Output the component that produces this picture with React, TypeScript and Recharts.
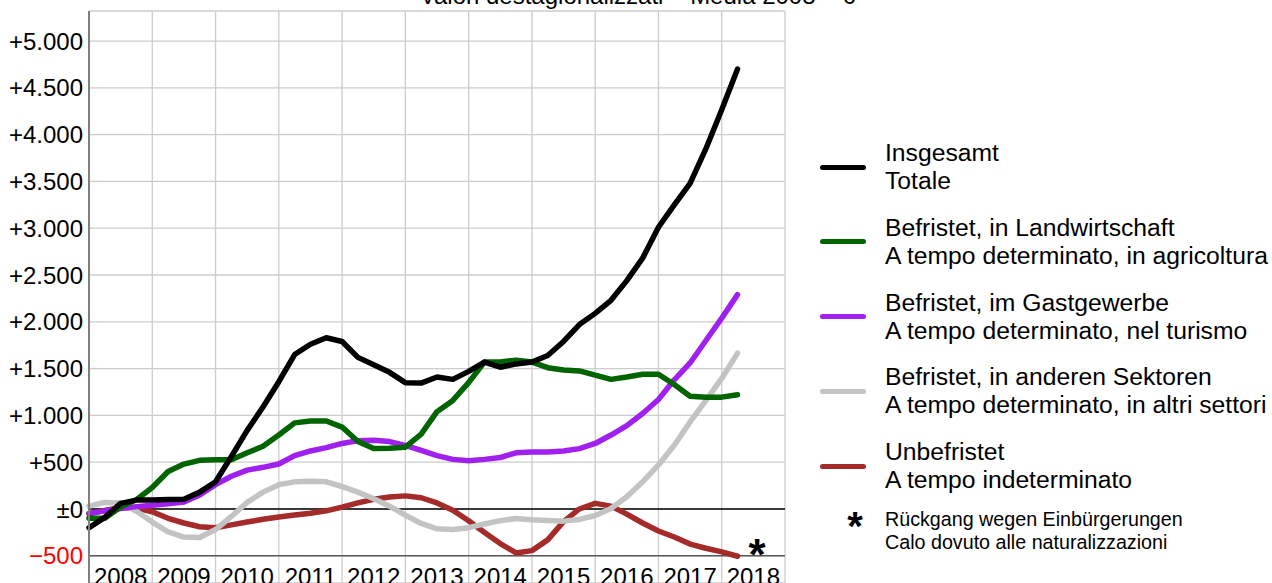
import React from 'react';
import {
  LineChart, Line, XAxis, YAxis, CartesianGrid, ReferenceLine, ReferenceDot,
} from 'recharts';

// quarterly points, decimal years
const TIME = [
  2008, 2008.25, 2008.5, 2008.75, 2009, 2009.25, 2009.5, 2009.75,
  2010, 2010.25, 2010.5, 2010.75, 2011, 2011.25, 2011.5, 2011.75,
  2012, 2012.25, 2012.5, 2012.75, 2013, 2013.25, 2013.5, 2013.75,
  2014, 2014.25, 2014.5, 2014.75, 2015, 2015.25, 2015.5, 2015.75,
  2016, 2016.25, 2016.5, 2016.75, 2017, 2017.25, 2017.5, 2017.75,
  2018, 2018.25,
];

const TOTALE = [
  -200, -90, 60, 95, 95, 100, 105, 180, 290, 560, 840, 1090, 1360, 1650,
  1760, 1830, 1790, 1620, 1540, 1460, 1350, 1345, 1410, 1385, 1470, 1570,
  1515, 1550, 1570, 1640, 1790, 1970, 2090, 2230, 2440, 2680, 3010, 3250,
  3480, 3850, 4265, 4700,
];

const AGRICOLTURA = [
  -100, -100, 20, 100, 230, 400, 480, 520, 525, 525, 600, 670, 790, 920,
  940, 940, 875, 720, 645, 650, 660, 800, 1040, 1160, 1350, 1570, 1570,
  1590, 1570, 1510, 1485, 1475, 1430, 1385, 1410, 1440, 1440, 1330, 1205,
  1195, 1195, 1220,
];

const TURISMO = [
  -50, -20, 5, 25, 40, 55, 75, 150, 260, 350, 415, 445, 480, 570, 620, 655,
  700, 730, 735, 720, 680, 625, 570, 530, 515, 530, 550, 600, 610, 610, 620,
  645, 700, 790, 890, 1020, 1170, 1380, 1560, 1800, 2040, 2290,
];

const ALTRI = [
  30, 70, 65, -25, -140, -245, -300, -305, -220, -80, 70, 180, 260, 290,
  295, 290, 240, 180, 110, 30, -65, -155, -212, -220, -200, -160, -125,
  -102, -115, -122, -130, -112, -70, 5, 130, 290, 470, 680, 930, 1160,
  1395, 1665,
];

const INDETERMINATO = [
  -50, -15, 15, 10, -30, -100, -150, -190, -200, -170, -140, -110, -85,
  -65, -45, -20, 20, 65, 103, 128, 140, 120, 65, -14, -126, -252, -370,
  -470, -445, -330, -135, 0, 60, 30, -55, -150, -235, -300, -375, -420,
  -458, -505,
];

const YEAR_GRID = [2008, 2009, 2010, 2011, 2012, 2013, 2014, 2015, 2016, 2017, 2018, 2019];
const YEAR_LABELS = [2008.5, 2009.5, 2010.5, 2011.5, 2012.5, 2013.5, 2014.5, 2015.5, 2016.5, 2017.5, 2018.5];
const Y_TICKS = [-500, 0, 500, 1000, 1500, 2000, 2500, 3000, 3500, 4000, 4500, 5000];

const SERIES = [
  { key: 'totale', de: 'Insgesamt', it: 'Totale', color: '#000000', values: TOTALE },
  { key: 'agri', de: 'Befristet, in Landwirtschaft', it: 'A tempo determinato, in agricoltura', color: '#006400', values: AGRICOLTURA },
  { key: 'turismo', de: 'Befristet, im Gastgewerbe', it: 'A tempo determinato, nel turismo', color: '#a020f0', values: TURISMO },
  { key: 'altri', de: 'Befristet, in anderen Sektoren', it: 'A tempo determinato, in altri settori', color: '#c3c3c3', values: ALTRI },
  { key: 'indet', de: 'Unbefristet', it: 'A tempo indeterminato', color: '#a52a2a', values: INDETERMINATO },
];

const data = TIME.map((t, i) => {
  const row: any = { t };
  SERIES.forEach(s => { row[s.key] = s.values[i]; });
  return row;
});

const fmt = (v: number) => {
  if (v === 0) return '±0';
  const abs = String(Math.abs(v)).replace(/\B(?=(\d{3})+(?!\d))/g, '.');
  return (v > 0 ? '+' : '\u2212') + abs;
};

const ValueTick = ({ x, y, payload }: any) => (
  <text x={x} y={y} dy="0.36em" textAnchor="end" fontSize={24}
    fill={payload.value < 0 ? '#ff0000' : '#000000'}>
    {fmt(payload.value)}
  </text>
);

// year labels are pulled up so they sit at the very bottom of the picture
const YearTick = ({ x, y, payload }: any) => (
  <text x={x} y={y} dy={-28} textAnchor="middle" fontSize={24} fill="#000000">
    {Math.floor(payload.value)}
  </text>
);

const Star = ({ cx, cy }: any) => (
  <text x={cx} y={cy} dy={25} textAnchor="middle" fontSize={44} fontWeight="bold" fill="#000">*</text>
);

export default function App() {
  const drawOrder = [...SERIES].reverse();
  return (
    <div style={{
      position: 'absolute', left: 0, top: 0, width: 1272, height: 583, overflow: 'hidden',
      background: '#fff', fontFamily: '"Liberation Sans", Arial, sans-serif', color: '#000',
    }}>
      <LineChart width={1272} height={610} data={data}
        margin={{ top: 11, right: 487, bottom: 0, left: 0 }}>
        <CartesianGrid xAxisId="grid" stroke="#cccccc" strokeWidth={1.3} />
        <XAxis xAxisId="grid" type="number" dataKey="t" domain={[2008, 2019]}
          ticks={YEAR_GRID} hide />
        <XAxis xAxisId="labels" type="number" dataKey="t" domain={[2008, 2019]}
          ticks={YEAR_LABELS} interval={0} height={27} axisLine={false}
          tickLine={false} tickSize={0} tickMargin={0} tick={<YearTick />} />
        <YAxis type="number" domain={[-791, 5321]} allowDataOverflow ticks={Y_TICKS}
          interval={0} width={89} tickSize={0} tickMargin={6} tickLine={false}
          axisLine={{ stroke: '#808080', strokeWidth: 2 }} tick={<ValueTick />} />
        <ReferenceLine xAxisId="grid" y={-500} stroke="#5a5a5a" strokeWidth={1.5} />
        <ReferenceLine xAxisId="grid" y={0} stroke="#000000" strokeWidth={1.5} />
        {drawOrder.map(s => (
          <Line key={s.key} xAxisId="grid" type="linear" dataKey={s.key} stroke={s.color}
            strokeWidth={5.5} strokeLinecap="round" strokeLinejoin="round"
            dot={false} activeDot={false} isAnimationActive={false} />
        ))}
        <ReferenceDot xAxisId="grid" x={2018.56} y={-385} r={0} shape={<Star />} />
      </LineChart>

      <div style={{
        position: 'absolute', left: 0, top: -18, width: 1276, textAlign: 'center',
        fontSize: 24, lineHeight: '28px', whiteSpace: 'nowrap',
      }}>
        Valori destagionalizzati – Media 2008 = 0
      </div>

      <div style={{ position: 'absolute', left: 820, top: 139 }}>
        {SERIES.map(s => (
          <div key={s.key} style={{ display: 'flex', alignItems: 'center', height: 56, marginBottom: 18.75 }}>
            <div style={{ width: 46, height: 5, borderRadius: 3, background: s.color, marginRight: 19 }} />
            <div style={{ fontSize: 24.7, lineHeight: '28px', whiteSpace: 'nowrap' }}>
              <div>{s.de}</div>
              <div>{s.it}</div>
            </div>
          </div>
        ))}
      </div>

      <div style={{
        position: 'absolute', left: 840, top: 506, width: 30, textAlign: 'center',
        fontSize: 40, lineHeight: '40px', fontWeight: 'bold',
      }}>*</div>
      <div style={{
        position: 'absolute', left: 885, top: 508, fontSize: 19.7, lineHeight: '23px',
        whiteSpace: 'nowrap',
      }}>
        <div>Rückgang wegen Einbürgerungen</div>
        <div>Calo dovuto alle naturalizzazioni</div>
      </div>
    </div>
  );
}
